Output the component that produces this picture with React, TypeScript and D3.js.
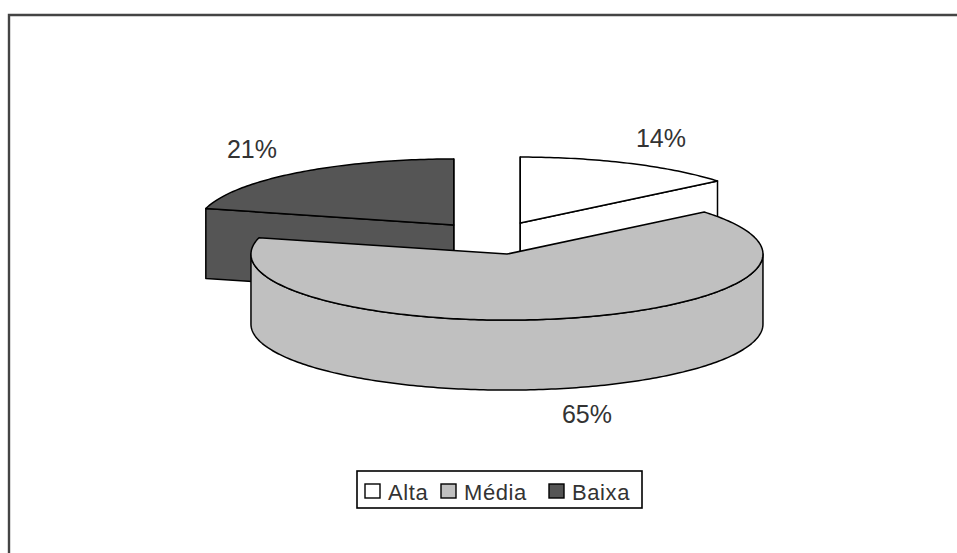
import * as d3 from "d3";

const categories = ["Alta", "Média", "Baixa"];
const shares = [14, 65, 21];
const sliceColors = ["#ffffff", "#c0c0c0", "#555555"];

const width = 957;
const height = 553;
const cx = 493;
const cy = 238;
const rx = 256;
const ry = 66;
const depth = 70;
const explode = 64;

const labelX = d3.scaleOrdinal<string, number>(categories, [661, 587, 252]);
const labelY = d3.scaleOrdinal<string, number>(categories, [147, 423, 158]);
const legendX = d3.scaleOrdinal<string, number>(categories, [365, 441, 549]);

const slices = d3
  .pie<number>()
  .sort(null)
  .startAngle(0)
  .endAngle(2 * Math.PI)(shares);

type Pt = [number, number];

const center = (s: d3.PieArcDatum<number>): Pt => {
  const mid = (s.startAngle + s.endAngle) / 2;
  return [
    cx + explode * Math.sin(mid),
    cy - explode * (ry / rx) * Math.cos(mid),
  ];
};

const rim = (c: Pt, a: number): Pt => [
  c[0] + rx * Math.sin(a),
  c[1] - ry * Math.cos(a),
];

const arcPoints = (c: Pt, a0: number, a1: number): Pt[] => {
  const n = Math.ceil(Math.abs(a1 - a0) * 60);
  return d3.range(n + 1).map((i) => rim(c, a0 + ((a1 - a0) * i) / n));
};

const line = d3.line<Pt>();
const closed = (pts: Pt[]) => line(pts) + "Z";
const down = (p: Pt): Pt => [p[0], p[1] + depth];

const topFace = (s: d3.PieArcDatum<number>) => {
  const c = center(s);
  return closed([c, ...arcPoints(c, s.startAngle, s.endAngle)]);
};

// cut face running from the slice centre out to the rim
const cutWall = (c: Pt, a: number) => {
  const p = rim(c, a);
  return closed([c, p, down(p), down(c)]);
};

// outer curved wall, only the front half can be seen
const outerWall = (s: d3.PieArcDatum<number>) => {
  const c = center(s);
  const from = Math.max(s.startAngle, Math.PI / 2);
  const to = Math.min(s.endAngle, (3 * Math.PI) / 2);
  const pts = arcPoints(c, from, to);
  return closed([...pts, ...pts.map(down).reverse()]);
};

export default function App() {
  const [alta, media, baixa] = slices;
  const stroke = { stroke: "#000", strokeWidth: 1.5, strokeLinejoin: "round" as const };
  return (
    <svg
      width={width}
      height={height}
      style={{ position: "fixed", left: 0, top: 0, display: "block", background: "#fff" }}
      fontFamily="'Liberation Sans', Arial, sans-serif"
    >
      <path d={`M9,${height}V15H${width}`} fill="none" stroke="#444" strokeWidth={2.4} />

      <path d={cutWall(center(baixa), baixa.startAngle)} fill={sliceColors[2]} {...stroke} />
      <path d={cutWall(center(baixa), baixa.endAngle)} fill={sliceColors[2]} {...stroke} />
      <path d={topFace(baixa)} fill={sliceColors[2]} {...stroke} />

      <path d={cutWall(center(alta), alta.startAngle)} fill={sliceColors[0]} {...stroke} />
      <path d={cutWall(center(alta), alta.endAngle)} fill={sliceColors[0]} {...stroke} />
      <path d={topFace(alta)} fill={sliceColors[0]} {...stroke} />

      <path d={outerWall(media)} fill={sliceColors[1]} {...stroke} />
      <path d={topFace(media)} fill={sliceColors[1]} {...stroke} />

      {categories.map((c, i) => (
        <text
          key={c}
          x={labelX(c)}
          y={labelY(c)}
          textAnchor="middle"
          fontSize={25}
          fill="#333"
        >
          {shares[i]}%
        </text>
      ))}

      <rect x={357} y={471} width={285} height={37} fill="#fff" stroke="#000" strokeWidth={1.6} />
      {categories.map((c, i) => (
        <g key={c}>
          <rect
            x={legendX(c)}
            y={484}
            width={15}
            height={14}
            fill={sliceColors[i]}
            stroke="#000"
            strokeWidth={1.4}
          />
          <text x={legendX(c) + 23} y={500} fontSize={22} fill="#333" letterSpacing={0.6}>
            {c}
          </text>
        </g>
      ))}
    </svg>
  );
}
